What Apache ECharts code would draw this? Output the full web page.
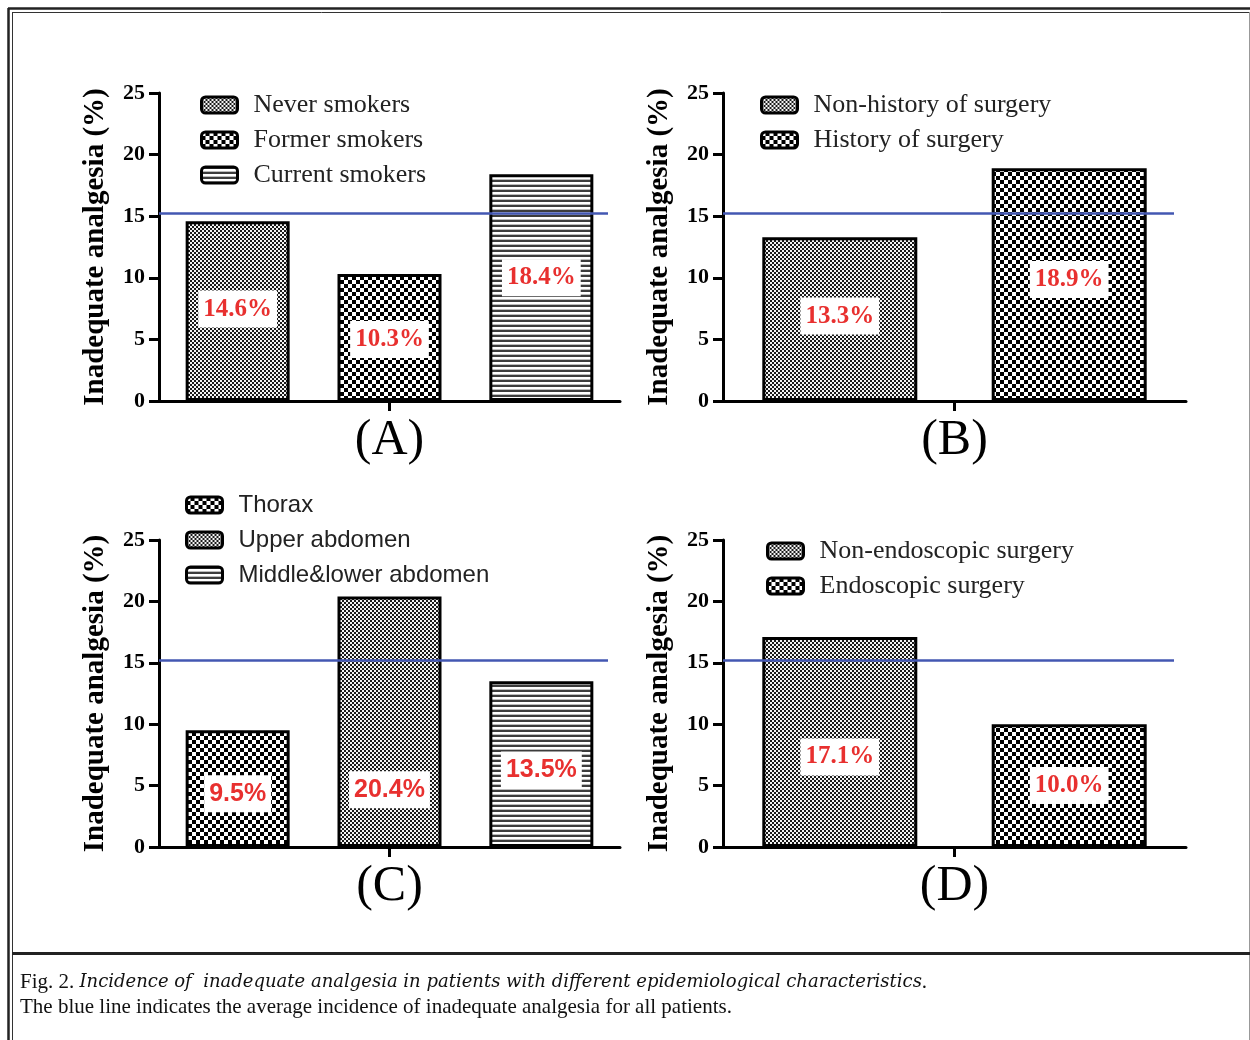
<!DOCTYPE html>
<html><head><meta charset="utf-8">
<script src="https://cdn.jsdelivr.net/npm/echarts@6/dist/echarts.min.js"></script>
<style>html,body{margin:0;padding:0;background:#fff}#c{width:1250px;height:1040px}</style>
</head><body><div id="c"></div>
<script>
// ---------- DATA ----------
const categoriesA = ['Never smokers', 'Former smokers', 'Current smokers'];
const valuesA = [14.6, 10.3, 18.4];
const categoriesB = ['Non-history of surgery', 'History of surgery'];
const valuesB = [13.3, 18.9];
const categoriesC = ['Thorax', 'Upper abdomen', 'Middle&lower abdomen'];
const valuesC = [9.5, 20.4, 13.5];
const categoriesD = ['Non-endoscopic surgery', 'Endoscopic surgery'];
const valuesD = [17.1, 10.0];
const averageIncidence = 15.2;
const panelLabels = ['(A)', '(B)', '(C)', '(D)'];
const yAxisTitle = 'Inadequate analgesia (%)';
const yMin = 0, yMax = 25, yInterval = 5;
const captionPrefix = 'Fig. 2. ';
const captionItalic = 'Incidence of  inadequate analgesia in patients with different epidemiological characteristics';
const captionLine2 = 'The blue line indicates the average incidence of inadequate analgesia for all patients.';

// ---------- STYLE / LAYOUT ----------
const SERIF = 'Liberation Serif';
const SANS = 'Liberation Sans';
const CAPTION_ITALIC = 'DejaVu Serif';

function makePattern(kind) {
  const c = document.createElement('canvas');
  const ctx = c.getContext('2d');
  if (kind === 'fine') {
    c.width = 4; c.height = 4;
    ctx.fillStyle = '#1a1a1a'; ctx.fillRect(0, 0, 4, 4);
    ctx.fillStyle = '#f4f4f4'; ctx.fillRect(0, 0, 2, 2); ctx.fillRect(2, 2, 2, 2);
  } else if (kind === 'coarse') {
    c.width = 8; c.height = 8;
    ctx.fillStyle = '#000'; ctx.fillRect(0, 0, 8, 8);
    ctx.fillStyle = '#fff'; ctx.fillRect(0, 0, 4, 4); ctx.fillRect(4, 4, 4, 4);
  } else {
    c.width = 4; c.height = 5;
    ctx.fillStyle = '#fff'; ctx.fillRect(0, 0, 4, 5);
    ctx.fillStyle = '#3c3c3c'; ctx.fillRect(0, 0, 4, 2);
    ctx.fillStyle = '#bbb'; ctx.fillRect(0, 4, 4, 1);
  }
  return { image: c, repeat: 'repeat' };
}

const panels = [
  { cats: categoriesA, vals: valuesA, patterns: ['fine', 'coarse', 'stripes'],
    grid: { left: 159, top: 93, width: 461, height: 308 }, barWidth: 104, barGap: '46%',
    lineStart: 159, lineEnd: 608, legend: { left: 200, top: 92 }, font: SERIF, nudge: [[0, -2], [0, 2], [0, -10]] },
  { cats: categoriesB, vals: valuesB, patterns: ['fine', 'coarse'],
    grid: { left: 723, top: 93, width: 463, height: 308 }, barWidth: 155, barGap: '48%',
    lineStart: 723, lineEnd: 1174, legend: { left: 760, top: 92 }, font: SERIF, nudge: [[0, -3], [0, -5]] },
  { cats: categoriesC, vals: valuesC, patterns: ['coarse', 'fine', 'stripes'],
    grid: { left: 159, top: 540, width: 461, height: 307 }, barWidth: 104, barGap: '46%',
    lineStart: 159, lineEnd: 608, legend: { left: 185, top: 492 }, font: SANS, nudge: [[0, 5], [0, 68], [0, 6]] },
  { cats: categoriesD, vals: valuesD, patterns: ['fine', 'coarse'],
    grid: { left: 723, top: 540, width: 463, height: 307 }, barWidth: 155, barGap: '48%',
    lineStart: 723, lineEnd: 1174, legend: { left: 766, top: 538 }, font: SERIF, nudge: [[0, 15], [0, 0]] }
];

const grids = [], xAxes = [], yAxes = [], series = [], legends = [];
panels.forEach((p, i) => {
  grids.push(Object.assign({ containLabel: false }, p.grid));
  xAxes.push({
    type: 'category', gridIndex: i, data: [''],
    axisLine: { show: true, lineStyle: { color: '#000', width: 3 } },
    axisTick: { show: true, alignWithLabel: true, length: 10, lineStyle: { color: '#000', width: 3 } },
    axisLabel: { show: false }, splitLine: { show: false },
    name: panelLabels[i], nameLocation: 'middle', nameGap: 15,
    nameTextStyle: { fontFamily: SERIF, fontSize: 50, color: '#000' }
  });
  yAxes.push({
    type: 'value', gridIndex: i, min: yMin, max: yMax, interval: yInterval,
    axisLine: { show: true, lineStyle: { color: '#000', width: 3 } },
    axisTick: { show: true, length: 10, lineStyle: { color: '#000', width: 3 } },
    axisLabel: { fontFamily: SERIF, fontWeight: 'bold', fontSize: 22, color: '#000', margin: 14 },
    splitLine: { show: false },
    name: yAxisTitle, nameLocation: 'middle', nameGap: 49,
    nameTextStyle: { fontFamily: SERIF, fontWeight: 'bold', fontSize: 29, color: '#000' }
  });
  p.cats.forEach((cat, j) => {
    const s = {
      type: 'bar', name: cat, xAxisIndex: i, yAxisIndex: i,
      data: [p.vals[j]], barWidth: p.barWidth, barGap: p.barGap,
      itemStyle: { color: makePattern(p.patterns[j]), borderColor: '#000', borderWidth: 3 },
      label: {
        show: true, position: 'inside', offset: p.nudge[j],
        formatter: (prm) => prm.value.toFixed(1) + '%',
        color: '#e8302f', fontWeight: 'bold', fontFamily: p.font, fontSize: 25,
        backgroundColor: '#fff', padding: [7, 5, 5, 5]
      },
      emphasis: { disabled: true }, silent: true
    };
    if (j === 0) {
      s.markLine = {
        silent: true, symbol: ['none', 'none'], z: 10,
        lineStyle: { color: '#4357b2', width: 2.5, type: 'solid' },
        label: { show: false },
        data: [[{ x: p.lineStart, yAxis: averageIncidence }, { x: p.lineEnd, yAxis: averageIncidence }]]
      };
    }
    series.push(s);
  });
  legends.push({
    data: p.cats, orient: 'vertical', left: p.legend.left, top: p.legend.top, padding: 0,
    itemWidth: 36, itemHeight: 16, itemGap: 9, icon: 'roundRect', selectedMode: false,
    itemStyle: { borderColor: '#000', borderWidth: 3 },
    textStyle: { fontFamily: p.font, fontSize: p.font === SANS ? 24 : 26, color: '#222', lineHeight: 26, padding: [0, 0, 0, 11] }
  });
});

const frame = [
  { type: 'line', shape: { x1: 8, y1: 8.5, x2: 1250, y2: 8.5 }, style: { stroke: '#222', lineWidth: 2.5 } },
  { type: 'line', shape: { x1: 12, y1: 12.5, x2: 1250, y2: 12.5 }, style: { stroke: '#333', lineWidth: 1 } },
  { type: 'line', shape: { x1: 8.5, y1: 8, x2: 8.5, y2: 1040 }, style: { stroke: '#222', lineWidth: 2.5 } },
  { type: 'line', shape: { x1: 12.5, y1: 12, x2: 12.5, y2: 1040 }, style: { stroke: '#333', lineWidth: 1 } },
  { type: 'line', shape: { x1: 1249.5, y1: 12, x2: 1249.5, y2: 1040 }, style: { stroke: '#999', lineWidth: 1 } },
  { type: 'line', shape: { x1: 12, y1: 953.5, x2: 1250, y2: 953.5 }, style: { stroke: '#222', lineWidth: 3 } },
  { type: 'text', left: 20, top: 972, style: {
      text: '{n|' + captionPrefix + '}{i|' + captionItalic + '}{n|.}',
      rich: {
        n: { fontFamily: SERIF, fontSize: 21, fill: '#111' },
        i: { fontFamily: CAPTION_ITALIC, fontSize: 18, fontStyle: 'italic', fill: '#111' }
      }
  } },
  { type: 'text', left: 20, top: 997, style: { text: captionLine2, fontFamily: SERIF, fontSize: 21, fill: '#111' } }
];

const chart = echarts.init(document.getElementById('c'), null, { renderer: 'canvas' });
chart.setOption({
  backgroundColor: '#fff', animation: false,
  grid: grids, xAxis: xAxes, yAxis: yAxes, series: series, legend: legends,
  graphic: frame
});
</script>
</body></html>
